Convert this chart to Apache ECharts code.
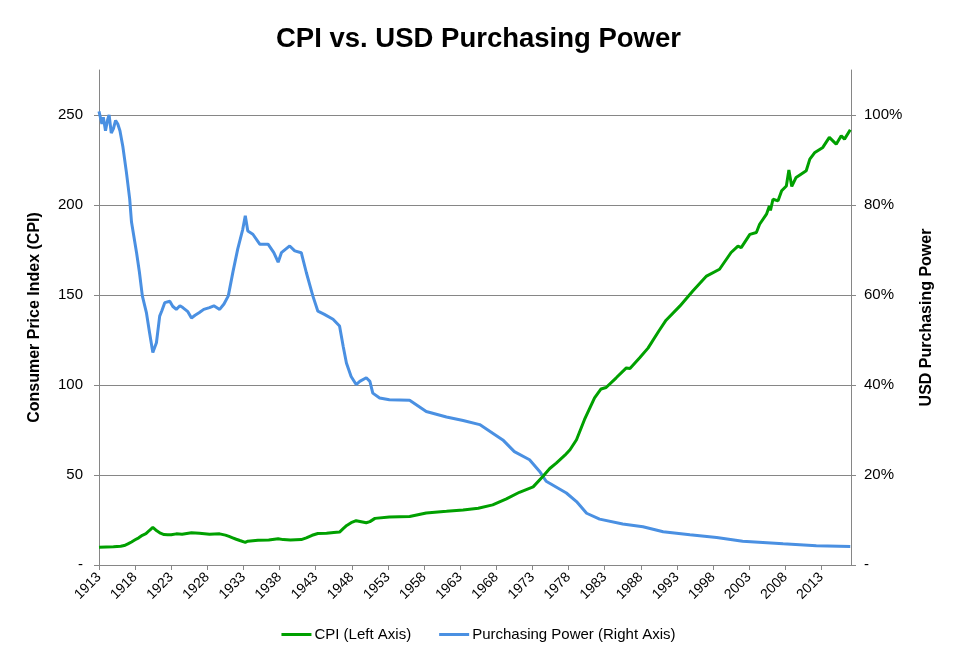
<!DOCTYPE html>
<html>
<head>
<meta charset="utf-8">
<script src="https://cdn.jsdelivr.net/npm/echarts@6/dist/echarts.min.js"></script>
<style>
html,body{margin:0;padding:0;background:#fff;}
#chart{width:957px;height:668px;}
</style>
</head>
<body>
<div id="chart"></div>
<script>
// CPI (left axis): [year (fractional), CPI value]
var cpiYears = [1913.0,1914.0,1915.0,1916.0,1916.5,1917.0,1917.5,1918.0,1918.5,1919.0,1919.5,1920.0,1920.45,1921.0,1921.5,1922.0,1922.5,1923.0,1923.7,1924.5,1925.8,1926.9,1928.3,1929.7,1930.5,1931.0,1931.5,1932.0,1932.5,1933.25,1933.6,1935.0,1936.5,1937.8,1938.5,1939.5,1941.0,1941.7,1942.5,1943.3,1944.5,1945.5,1946.3,1946.8,1947.3,1947.9,1948.6,1950.0,1950.5,1951.2,1953.2,1956.0,1958.3,1961.1,1963.4,1965.5,1967.5,1969.4,1971.2,1973.1,1974.5,1975.4,1976.3,1977.5,1978.2,1979.1,1980.2,1981.6,1982.5,1983.2,1984.6,1986.0,1986.5,1987.85,1989.0,1990.5,1991.5,1993.4,1995.2,1997.1,1998.9,2000.5,2001.45,2001.9,2003.1,2004.0,2004.45,2005.4,2005.8,2005.95,2006.3,2007.0,2007.5,2008.15,2008.5,2008.9,2009.5,2010.9,2011.4,2012.1,2013.2,2014.1,2015.05,2015.75,2016.2,2017.0];
var cpiValues = [9.8,10.0,10.1,10.4,10.8,11.7,12.8,14.0,15.1,16.5,17.4,19.3,20.9,19.0,17.7,16.9,16.8,16.8,17.3,17.1,17.9,17.6,17.1,17.3,16.6,15.9,15.1,14.3,13.6,12.6,13.2,13.7,13.9,14.6,14.1,13.9,14.1,15.1,16.5,17.5,17.7,18.1,18.3,20.2,22.0,23.5,24.6,23.5,24.1,25.9,26.7,26.9,28.9,29.8,30.6,31.5,33.4,36.7,40.4,43.4,49.5,53.6,56.6,61.0,64.0,69.6,80.7,92.8,97.8,98.6,104.0,109.5,109.2,115.1,120.5,130.0,136.0,143.8,152.2,160.5,164.3,173.6,177.2,176.3,183.7,184.7,189.3,194.9,199.5,197.0,203.2,202.3,207.9,210.6,219.5,210.3,215.3,219.0,225.5,229.2,232.0,237.6,233.8,238.5,236.6,241.8];

// USD purchasing power (right axis, %): [year (fractional), percent]
var powerYears = [1913.0,1913.4,1913.6,1913.9,1914.2,1914.4,1914.7,1915.0,1915.3,1915.6,1915.9,1916.3,1916.8,1917.25,1917.5,1918.2,1918.6,1919.0,1919.56,1920.0,1920.45,1920.95,1921.4,1921.7,1922.1,1922.8,1923.2,1923.7,1924.2,1924.6,1925.3,1925.8,1926.3,1926.9,1927.5,1928.3,1928.9,1929.7,1930.3,1930.9,1931.55,1932.2,1932.9,1933.25,1933.6,1934.3,1935.25,1936.4,1937.2,1937.8,1938.25,1939.4,1940.1,1941.0,1941.7,1942.6,1943.3,1944.2,1945.4,1946.3,1946.8,1947.25,1947.9,1948.6,1949.1,1950.0,1950.5,1950.9,1951.85,1953.2,1956.0,1958.3,1961.1,1963.4,1965.7,1967.5,1968.9,1970.5,1972.6,1974.0,1974.9,1977.7,1979.1,1980.5,1982.3,1985.5,1988.3,1991.1,1994.8,1998.5,2002.1,2007.7,2012.3,2017.0];
var powerValues = [100.8,98.0,99.5,96.5,99.0,100.0,96.0,97.0,98.8,98.0,96.5,93.0,87.2,81.3,76.2,69.4,65.0,59.8,56.1,51.6,47.2,49.4,55.3,56.5,58.3,58.6,57.5,56.8,57.6,57.2,56.3,54.9,55.5,56.1,56.8,57.2,57.6,56.8,58.0,59.8,65.2,70.2,74.6,77.6,74.2,73.5,71.3,71.3,69.4,67.3,69.4,70.9,69.8,69.4,65.0,59.8,56.4,55.7,54.6,53.1,48.6,44.9,41.9,40.1,40.8,41.6,40.8,38.2,37.1,36.7,36.6,34.1,32.9,32.1,31.2,29.3,27.8,25.2,23.4,20.8,18.6,16.0,14.1,11.5,10.2,9.1,8.5,7.4,6.7,6.1,5.3,4.7,4.3,4.1];

var pairs = function (xs, ys) { return xs.map(function (x, i) { return [x, ys[i]]; }); };

var FONT = '"Liberation Sans", Arial, sans-serif';
var AXIS_GRAY = '#868686';
var GREEN = '#00A000';
var BLUE = '#4A90E2';

var chart = echarts.init(document.getElementById('chart'), null, {renderer: 'canvas'});
chart.setOption({
  animation: false,
  backgroundColor: '#ffffff',
  title: {
    text: 'CPI vs. USD Purchasing Power',
    left: 'center',
    top: 20,
    textStyle: {fontFamily: FONT, fontSize: 27.5, fontWeight: 'bold', color: '#000'}
  },
  legend: {
    bottom: 21,
    left: 'center',
    itemWidth: 30,
    itemHeight: 3,
    itemGap: 28,
    icon: 'rect',
    textStyle: {fontFamily: FONT, fontSize: 15, color: '#000', padding: [0, 0, 0, -2]},
    data: ['CPI (Left Axis)', 'Purchasing Power (Right Axis)']
  },
  grid: {left: 99, right: 106, top: 70, bottom: 103, containLabel: false},
  xAxis: {
    type: 'value',
    min: 1913,
    max: 2017.1,
    interval: 5,
    axisLine: {show: true, lineStyle: {color: AXIS_GRAY, width: 1}},
    axisTick: {show: true, length: 5, lineStyle: {color: AXIS_GRAY}},
    splitLine: {show: false},
    axisLabel: {
      rotate: 45,
      margin: 10,
      showMaxLabel: false,
      fontFamily: FONT, fontSize: 14, color: '#000',
      formatter: function (v) { return String(Math.round(v)); }
    }
  },
  yAxis: [
    {
      type: 'value',
      min: 0, max: 275, interval: 50,
      name: 'Consumer Price Index (CPI)',
      nameLocation: 'middle',
      nameRotate: 90,
      nameGap: 56,
      nameTextStyle: {fontFamily: FONT, fontSize: 16, fontWeight: 'bold', color: '#000'},
      axisLine: {show: true, lineStyle: {color: AXIS_GRAY, width: 1}},
      axisTick: {show: true, length: 5, lineStyle: {color: AXIS_GRAY}},
      splitLine: {show: true, showMinLine: false, showMaxLine: false, lineStyle: {color: AXIS_GRAY, width: 1}},
      axisLabel: {
        margin: 16,
        showMaxLabel: false,
        fontFamily: FONT, fontSize: 15, color: '#000',
        formatter: function (v) { return v === 0 ? '-' : String(v); }
      }
    },
    {
      type: 'value',
      position: 'right',
      min: 0, max: 110, interval: 20,
      name: 'USD Purchasing Power',
      nameLocation: 'middle',
      nameRotate: 90,
      nameGap: 68,
      nameTextStyle: {fontFamily: FONT, fontSize: 16, fontWeight: 'bold', color: '#000'},
      axisLine: {show: true, lineStyle: {color: AXIS_GRAY, width: 1}},
      axisTick: {show: true, length: 5, lineStyle: {color: AXIS_GRAY}},
      splitLine: {show: false},
      axisLabel: {
        margin: 13,
        showMaxLabel: false,
        fontFamily: FONT, fontSize: 15, color: '#000',
        formatter: function (v) { return v === 0 ? '-' : v + '%'; }
      }
    }
  ],
  series: [
    {
      name: 'CPI (Left Axis)',
      type: 'line',
      yAxisIndex: 0,
      data: pairs(cpiYears, cpiValues),
      showSymbol: false,
      symbol: 'none',
      color: GREEN,
      lineStyle: {color: GREEN, width: 3},
      z: 3
    },
    {
      name: 'Purchasing Power (Right Axis)',
      type: 'line',
      yAxisIndex: 1,
      data: pairs(powerYears, powerValues),
      showSymbol: false,
      symbol: 'none',
      color: BLUE,
      lineStyle: {color: BLUE, width: 3},
      z: 2
    }
  ]
});
</script>
</body>
</html>
